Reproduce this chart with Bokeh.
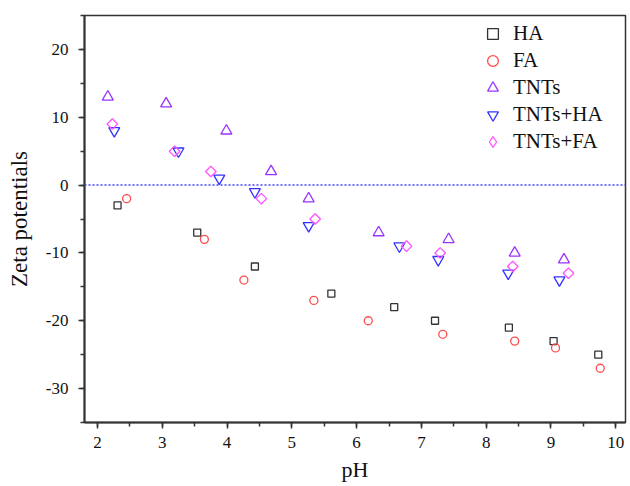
import math
from bokeh.plotting import figure
from bokeh.models import Range1d, SingleIntervalTicker, Span, Legend
from bokeh.embed import file_html
from bokeh.resources import INLINE

# Data
ha_ph = [2.31, 3.54, 4.43, 5.61, 6.58, 7.21, 8.35, 9.04, 9.73]
ha_zeta = [-3, -7, -12, -16, -18, -20, -21, -23, -25]

fa_ph = [2.45, 3.65, 4.26, 5.34, 6.18, 7.33, 8.44, 9.07, 9.76]
fa_zeta = [-2, -8, -14, -17, -20, -22, -23, -24, -27]

tnts_ph = [2.16, 3.06, 3.99, 4.68, 5.26, 6.34, 7.42, 8.44, 9.20]
tnts_zeta = [13, 12, 8, 2, -2, -7, -8, -10, -11]

tnts_ha_ph = [2.26, 3.25, 3.88, 4.43, 5.26, 6.66, 7.26, 8.34, 9.13]
tnts_ha_zeta = [8, 5, 1, -1, -6, -9, -11, -13, -14]

tnts_fa_ph = [2.23, 3.19, 3.75, 4.53, 5.36, 6.77, 7.29, 8.41, 9.27]
tnts_fa_zeta = [9, 5, 2, -2, -5, -9, -10, -12, -13]

y_ticks = [-30, -20, -10, 0, 10, 20]
y_tick_labels = ["-30", "-20", "-10", "0", "10", "20"]

FONT = "Liberation Serif"

p = figure(width=630, height=486, output_backend="svg", toolbar_location=None,
           x_range=Range1d(1.8, 10.15), y_range=Range1d(-35, 25),
           min_border_left=84, min_border_top=15, min_border_right=5, min_border_bottom=64)
p.background_fill_color = "white"
p.border_fill_color = "white"
p.xgrid.visible = False
p.ygrid.visible = False
p.outline_line_color = "#333333"
p.outline_line_width = 1.5
p.outline_line_alpha = 1.0

p.xaxis.ticker = SingleIntervalTicker(interval=1, num_minor_ticks=2)
p.yaxis.ticker = SingleIntervalTicker(interval=10, num_minor_ticks=2)
p.yaxis.major_label_overrides = {t: s for t, s in zip(y_ticks, y_tick_labels)}

for ax in (p.xaxis[0], p.yaxis[0]):
    ax.axis_line_width = 2
    ax.axis_line_color = "#333333"
    ax.major_tick_line_color = "#333333"
    ax.minor_tick_line_color = "#333333"
    ax.major_tick_line_width = 1.5
    ax.minor_tick_line_width = 1.5
    ax.major_tick_out = 6
    ax.major_tick_in = 0
    ax.minor_tick_out = 4
    ax.minor_tick_in = 0
    ax.major_label_text_font = FONT
    ax.major_label_text_font_size = "17px"
    ax.major_label_text_color = "#111111"
    ax.axis_label_text_font = FONT
    ax.axis_label_text_font_size = "22px"
    ax.axis_label_text_font_style = "normal"
    ax.axis_label_text_color = "#111111"

p.yaxis.axis_label_text_font_size = "23px"
p.xaxis.axis_label = "pH"
p.yaxis.axis_label = "Zeta potentials"
p.xaxis.major_label_standoff = 8
p.yaxis.major_label_standoff = 10
p.xaxis.axis_label_standoff = 6
p.yaxis.axis_label_standoff = 11

zero = Span(location=0, dimension="width", line_color="#4444ff",
            line_dash="2 2", line_width=1.5)
p.add_layout(zero)

r1 = p.scatter(ha_ph, ha_zeta, marker="square", size=7, fill_color=None,
               line_color="#333333", line_width=1.3)
r2 = p.scatter(fa_ph, fa_zeta, marker="circle", size=8, fill_color=None,
               line_color="#ff4d4d", line_width=1.3)
r3 = p.scatter(tnts_ph, tnts_zeta, marker="triangle", size=11, fill_color=None,
               line_color="#9933ff", line_width=1.3)
r4 = p.scatter(tnts_ha_ph, tnts_ha_zeta, marker="inverted_triangle", size=11, fill_color=None,
               line_color="#3333ff", line_width=1.3)
r5 = p.scatter(tnts_fa_ph, tnts_fa_zeta, marker="square", angle=math.pi / 4, size=7.5,
               fill_color=None, line_color="#ff55ff", line_width=1.3)
# legend-only stand-in for the diamond (legend glyphs ignore marker angle)
r5_leg = p.scatter(tnts_fa_ph, tnts_fa_zeta, marker="diamond", size=13,
                   fill_color=None, line_color="#ff55ff", line_width=1.3, visible=False)

legend = Legend(items=[("HA", [r1]), ("FA", [r2]), ("TNTs", [r3]),
                       ("TNTs+HA", [r4]), ("TNTs+FA", [r5_leg])],
                location=(391, 263))
legend.background_fill_alpha = 0
legend.border_line_alpha = 0
legend.label_text_font = FONT
legend.label_text_font_size = "21px"
legend.label_text_color = "#111111"
legend.label_height = 20
legend.glyph_height = 27
legend.glyph_width = 27
legend.spacing = 0
legend.padding = 4
legend.margin = 0
legend.label_standoff = 7
p.add_layout(legend)

open("out.html", "w").write(file_html(p, INLINE))
